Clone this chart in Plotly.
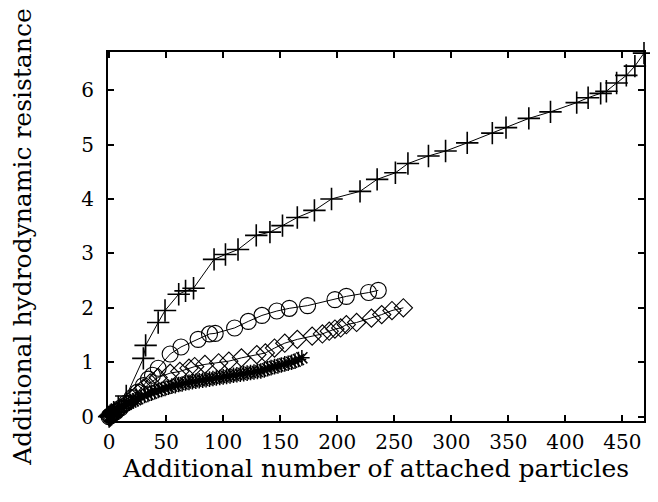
import plotly.graph_objects as go

# Series: "+" markers
plus_x = [0, 1, 2, 4, 8, 15, 30, 32, 43, 49, 61, 67, 74, 92, 102, 113, 129, 141, 152, 165,
          180, 195, 220, 235, 251, 262, 280, 295, 314, 336, 348, 368, 387, 410, 420, 431,
          436, 445, 453.5, 461, 469]
plus_y = [0.0, 0.02, 0.04, 0.08, 0.18, 0.38, 1.07, 1.31, 1.73, 1.95, 2.25, 2.31, 2.36, 2.89,
          2.98, 3.07, 3.33, 3.39, 3.51, 3.66, 3.79, 4.00, 4.14, 4.36, 4.48, 4.65, 4.79, 4.88,
          5.03, 5.21, 5.31, 5.48, 5.60, 5.77, 5.86, 5.94, 5.98, 6.13, 6.27, 6.44, 6.68]

# Series: open circles
circ_x = [0, 1, 3, 6, 10, 15, 20, 25, 30, 34.5, 38, 43, 53.5, 63, 78, 88, 93, 110, 122, 134,
          147, 158, 174, 198, 208, 227.5, 236]
circ_y = [0.0, 0.02, 0.05, 0.09, 0.16, 0.25, 0.35, 0.45, 0.57, 0.69, 0.76, 0.89, 1.15, 1.28,
          1.42, 1.52, 1.53, 1.63, 1.75, 1.86, 1.94, 1.99, 2.04, 2.15, 2.21, 2.28, 2.32]

# Series: open diamonds
diam_x = [0, 1, 3, 6, 10, 15, 20, 25, 30, 36, 43, 53.5, 62, 70, 75, 84, 96, 105, 116, 129.5,
          137, 145, 154, 165, 178, 187, 193, 198, 203, 208, 217, 230, 239, 248, 258]
diam_y = [0.0, 0.02, 0.05, 0.09, 0.15, 0.24, 0.33, 0.42, 0.52, 0.62, 0.72, 0.80, 0.83, 0.89,
          0.92, 0.96, 0.99, 1.02, 1.08, 1.14, 1.17, 1.26, 1.35, 1.42, 1.48, 1.52, 1.57, 1.61,
          1.63, 1.69, 1.73, 1.81, 1.875, 1.95, 2.00]

# Series: stars (dense)
star_x = [0, 1, 2, 3, 4, 5, 7, 9, 11, 13, 15, 17, 19, 21, 23, 25, 28, 31, 34, 37, 40, 43, 46,
          49, 52, 55, 58, 61, 64, 67, 70, 73, 76, 79, 82, 85, 88, 91, 94, 97, 100, 103, 106,
          109, 112, 115, 118, 121, 124, 127, 130, 133, 136, 139, 142, 145, 148, 151, 154, 157,
          160, 163, 166, 169]
star_y = [0.0, 0.01, 0.03, 0.05, 0.07, 0.09, 0.12, 0.15, 0.18, 0.21, 0.23, 0.25, 0.27, 0.29,
          0.31, 0.33, 0.36, 0.39, 0.41, 0.43, 0.46, 0.48, 0.50, 0.52, 0.54, 0.56, 0.57, 0.59,
          0.60, 0.62, 0.63, 0.64, 0.65, 0.66, 0.67, 0.68, 0.69, 0.70, 0.71, 0.72, 0.73, 0.74,
          0.75, 0.76, 0.77, 0.78, 0.79, 0.80, 0.81, 0.82, 0.83, 0.84, 0.86, 0.88, 0.90, 0.92,
          0.93, 0.95, 0.97, 0.98, 1.00, 1.02, 1.05, 1.08]

x_ticks = [0, 50, 100, 150, 200, 250, 300, 350, 400, 450]
y_ticks = [0, 1, 2, 3, 4, 5, 6]

x_title = "Additional number of attached particles"
y_title = "Additional hydrodynamic resistance"

FONT = "DejaVu Serif"

fig = go.Figure()


def add(xs, ys, symbol, size, mlw=1.4):
    fig.add_trace(go.Scatter(
        x=xs, y=ys, mode="lines+markers",
        line=dict(color="black", width=1),
        marker=dict(symbol=symbol, size=size, color="black",
                    line=dict(color="black", width=mlw)),
        showlegend=False, cliponaxis=False,
    ))


add(star_x, star_y, "asterisk-open", 13, 1.5)
add(diam_x, diam_y, "diamond-open", 14, 1.1)
add(circ_x, circ_y, "circle-open", 16, 1.1)
add(plus_x, plus_y, "cross-thin-open", 16, 1.6)

axis_common = dict(
    showline=True, linecolor="black", linewidth=2, mirror="ticks",
    ticks="inside", ticklen=6, tickwidth=1.5, tickcolor="black",
    showgrid=False, zeroline=False,
    tickfont=dict(family=FONT, size=20, color="black"),
)

fig.update_layout(
    width=650, height=494,
    margin=dict(l=100, r=14, t=44, b=81),
    plot_bgcolor="white", paper_bgcolor="white",
    xaxis=dict(range=[-1, 469], tickvals=x_ticks, ticklabelstandoff=2,
               title=dict(text=x_title, font=dict(family=FONT, size=25, color="black"),
                          standoff=2),
               **axis_common),
    yaxis=dict(range=[-0.08, 6.70], tickvals=y_ticks, ticklabelstandoff=8,
               title=dict(text=y_title, font=dict(family=FONT, size=25, color="black"),
                          standoff=44),
               **axis_common),
)

fig.write_html("out.html")
